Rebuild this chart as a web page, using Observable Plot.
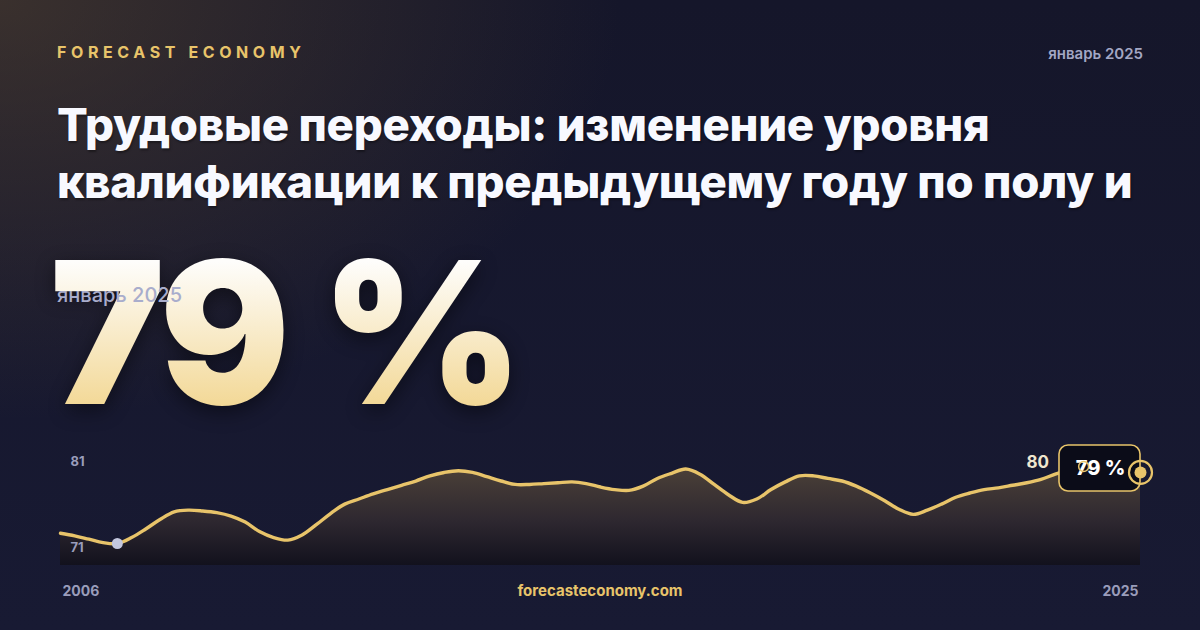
<!DOCTYPE html>
<html>
<head>
<meta charset="utf-8">
<script src="https://cdn.jsdelivr.net/npm/d3@7"></script>
<script src="https://cdn.jsdelivr.net/npm/@observablehq/plot@0.6"></script>
<style>
  html, body { margin:0; padding:0; }
  body {
    width:1200px; height:630px; overflow:hidden; position:relative;
    font-family: Inter, "Noto Sans", sans-serif;
    background:
      radial-gradient(ellipse 620px 420px at 0px 0px, rgba(88,70,48,0.55), rgba(88,70,48,0) 100%),
      linear-gradient(180deg, #15162a 0%, #181a33 100%);
  }
  .abs { position:absolute; white-space:nowrap; }
  #brand { left:57px; top:44px; font-size:16px; line-height:16px; font-weight:700; letter-spacing:4.6px; color:#e8c46a; }
  #date { right:57px; top:46px; font-size:15px; line-height:16px; font-weight:600; color:#a3a7c4; }
  #title { left:57px; top:96px; font-size:45.6px; line-height:57px; font-weight:800; color:#f8f9ff; letter-spacing:-0.3px;
           text-shadow: 1px 2px 2px rgba(0,0,0,0.35); }
  #big { left:50px; top:222px; font-size:198px; line-height:220px; font-weight:900; letter-spacing:-4px;
         transform: scaleX(0.978); transform-origin: 5px 0;
         background: linear-gradient(180deg, #fefdfb 18%, #f2d690 88%);
         -webkit-background-clip:text; background-clip:text; color:transparent;
         filter: drop-shadow(0 6px 10px rgba(0,0,0,0.45)); }
  #sub { left:57px; top:283px; font-size:20px; line-height:24px; font-weight:500; color:#a9adcc; }
  #site { left:0; width:1200px; text-align:center; top:583px; font-size:15px; line-height:16px; font-weight:700; color:#e8c46a; }
  #chart { position:absolute; left:0; top:430px; }
</style>
</head>
<body>
<div id="brand" class="abs">FORECAST ECONOMY</div>
<div id="date" class="abs">январь 2025</div>
<div id="title" class="abs">Трудовые переходы: изменение уровня<br>квалификации к предыдущему году по полу и</div>
<div id="big" class="abs"></div>
<div id="sub" class="abs">январь 2025</div>
<div id="site" class="abs">forecasteconomy.com</div>
<div id="chart"></div>
<script>
// ---- data (quarterly readings, 2006 → 2025) ----
const startYear = 2006;
const endYear = 2025;
const stepsPerYear = 4;
const values = [
  72.2, 71.9, 71.5, 71.1, 71.0, 71.7, 72.7, 73.8, 74.7, 74.9,
  74.8, 74.6, 74.2, 73.5, 72.4, 71.7, 71.4, 72.0, 73.2, 74.5,
  75.6, 76.2, 76.8, 77.3, 77.8, 78.3, 78.9, 79.3, 79.5, 79.3,
  78.8, 78.3, 77.9, 77.9, 78.0, 78.1, 78.2, 78.0, 77.6, 77.3,
  77.2, 77.7, 78.6, 79.2, 79.7, 79.1, 77.9, 76.7, 75.8, 76.2,
  77.3, 78.2, 78.9, 78.9, 78.6, 78.3, 77.7, 76.9, 76.0, 75.0,
  74.4, 74.9, 75.6, 76.4, 76.9, 77.3, 77.5, 77.8, 78.1, 78.5,
  79.1, 79.6, 80.0, 79.9, 79.6, 79.4, 79.3
];
const yTicks = [81, 71];
const xLabels = ["2006", "2025"];
const unit = " %";

const data = values.map((v, i) => ({t: startYear + i / stepsPerYear, v}));
const last = data[data.length - 1];
const minPt = data.reduce((a, b) => (b.v < a.v ? b : a));
const maxPt = data.reduce((a, b) => (b.v > a.v ? b : a));
const yLo = 68.43;

document.getElementById("big").textContent = Math.round(last.v) + unit;

const gold = "#e8c46a";

const plot = Plot.plot({
  width: 1200,
  height: 180,
  margin: 0,
  style: {background: "transparent", fontFamily: "Inter, sans-serif", overflow: "visible"},
  x: {domain: [startYear, endYear], range: [60, 1140], axis: null},
  y: {domain: [yLo, 81], range: [135, 27.4], axis: null},
  marks: [
    Plot.areaY(data, {x: "t", y1: () => yLo, y2: "v", curve: "catmull-rom", fill: "url(#areaGrad)"}),
    Plot.line(data, {x: "t", y: "v", curve: "catmull-rom", stroke: gold, strokeWidth: 3.4}),
    Plot.text(yTicks, {x: () => startYear, y: d => d, text: d => String(d), dx: 10, dy: 4,
      textAnchor: "start", fill: "#9a9dbb", fontSize: 13, fontWeight: 700}),
    Plot.text([xLabels[0]], {x: () => startYear, y: () => yLo, text: d => d, dx: 2, dy: 26,
      textAnchor: "start", fill: "#9a9dbb", fontSize: 14, fontWeight: 700}),
    Plot.text([xLabels[1]], {x: () => endYear, y: () => yLo, text: d => d, dx: -2, dy: 26,
      textAnchor: "end", fill: "#9a9dbb", fontSize: 14, fontWeight: 700}),
    Plot.dot([minPt], {x: "t", y: "v", r: 5.5, fill: "#c3c7de", stroke: "none"}),
    Plot.text([maxPt], {x: "t", y: "v", text: d => String(Math.round(d.v)), dx: -46, dy: -4,
      fill: "#efe6cf", fontSize: 17, fontWeight: 700}),
    Plot.rect([last], {x1: "t", x2: "t", y1: "v", y2: "v", insetLeft: -81, insetRight: 0,
      insetTop: -27, insetBottom: -19, rx: 9, fill: "#0b0c18", stroke: gold, strokeWidth: 1.6}),
    Plot.text([last], {x: "t", y: "v", text: d => Math.round(d.v) + unit, dx: -40, dy: -4,
      fill: "#ffffff", fontSize: 20, fontWeight: 800}),
    Plot.dot([maxPt], {x: "t", y: "v", r: 5, fill: "none", stroke: gold, strokeWidth: 1.5}),
    Plot.dot([last], {x: "t", y: "v", r: 11.5, fill: "none", stroke: gold, strokeWidth: 2.2}),
    Plot.dot([last], {x: "t", y: "v", r: 6, fill: gold, stroke: "none"})
  ]
});

const defs = d3.create("svg:defs");
const grad = defs.append("linearGradient").attr("id", "areaGrad")
  .attr("x1", 0).attr("y1", 0).attr("x2", 0).attr("y2", 1);
grad.append("stop").attr("offset", "0%").attr("stop-color", "#4c4138");
grad.append("stop").attr("offset", "55%").attr("stop-color", "#2e2830");
grad.append("stop").attr("offset", "100%").attr("stop-color", "#12111d");
plot.insertBefore(defs.node(), plot.firstChild);

document.getElementById("chart").appendChild(plot);
</script>
</body>
</html>
